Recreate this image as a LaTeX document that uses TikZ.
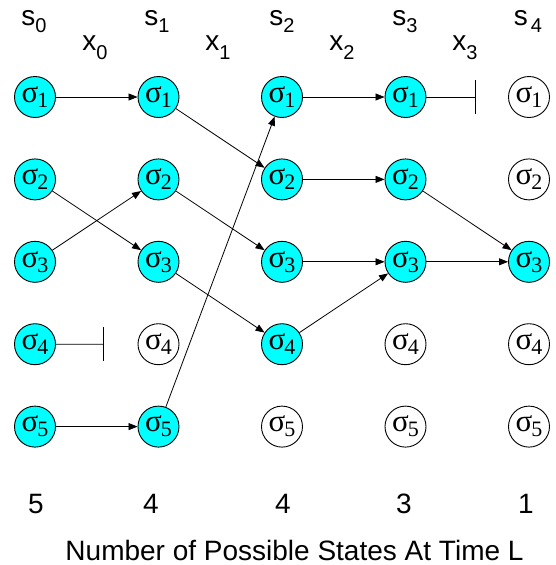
\documentclass[tikz,border=0pt]{standalone}
\usepackage{fontspec}
\setmainfont{Liberation Sans}
\newfontfamily\sigfont{Liberation Serif}
\usetikzlibrary{arrows.meta}
\definecolor{cy}{RGB}{0,255,255}
\newcommand\sg[1]{{\sigfont\fontsize{31}{31}\selectfont σ\kern-1pt\raisebox{-5pt}{\fontsize{22}{22}\selectfont #1}}}
\newcommand\lb[3]{{\fontsize{28}{28}\selectfont #1\raisebox{#3}{\fontsize{20}{20}\selectfont #2}}}
\begin{document}
\begin{tikzpicture}[x=1pt,y=-1pt,
  st/.style={circle, draw, line width=0.9pt, minimum size=41pt, inner sep=0pt},
  on/.style={st, fill=cy},
  off/.style={st, fill=white},
  edge/.style={line width=0.8pt, -{Triangle[length=9pt,width=7pt]}},
  blk/.style={line width=0.8pt},
  lab/.style={anchor=base, inner sep=0pt}]
\useasboundingbox (0,0) rectangle (556,565);
% state nodes
\foreach \c/\r in {0/1,0/2,0/3,0/4,0/5,1/1,1/2,1/3,1/5,2/1,2/2,2/3,2/4,3/1,3/2,3/3,4/3}
  \node[on] (n\c\r) at ({35+123.5*\c},{97+82.4*(\r-1)}) {\sg{\r}};
\foreach \c/\r in {1/4,2/5,3/4,3/5,4/1,4/2,4/4,4/5}
  \node[off] (n\c\r) at ({35+123.5*\c},{97+82.4*(\r-1)}) {\sg{\r}};
% headers
\node[lab] (s0) at (34,25) {\lb{s}{0}{-7pt}};
\node[lab] (s1) at (157,25) {\lb{s}{1}{-7pt}};
\node[lab] (s2) at (282,25) {\lb{s}{2}{-7pt}};
\node[lab] (s3) at (405,25) {\lb{s}{3}{-7pt}};
\node[lab] (s4) at (528,25) {\lb{s\kern3pt}{4}{-7pt}};
\node[lab] (x0) at (95,50) {\lb{x}{0}{-9pt}};
\node[lab] (x1) at (218,50) {\lb{x}{1}{-9pt}};
\node[lab] (x2) at (342,50) {\lb{x}{2}{-9pt}};
\node[lab] (x3) at (465,50) {\lb{x}{3}{-9pt}};
% counts
\node[lab] (c0) at (36,513) {\fontsize{28}{28}\selectfont 5};
\node[lab] (c1) at (151,513) {\fontsize{28}{28}\selectfont 4};
\node[lab] (c2) at (283,513) {\fontsize{28}{28}\selectfont 4};
\node[lab] (c3) at (404,513) {\fontsize{28}{28}\selectfont 3};
\node[lab] (c4) at (526,513) {\fontsize{28}{28}\selectfont 1};
\node[lab] (title) at (294.5,560) {\fontsize{28}{28}\selectfont Number of Possible States At Time L};
% transitions
\draw[edge] (n01) -- (n11);
\draw[edge] (n02) -- (n13);
\draw[edge] (n03) -- (n12);
\draw[edge] (n05) -- (n15);
\draw[edge] (n11) -- (n22);
\draw[edge] (n12) -- (n23);
\draw[edge] (n13) -- (n24);
\draw[edge] (n15) -- (n21);
\draw[edge] (n21) -- (n31);
\draw[edge] (n22) -- (n32);
\draw[edge] (n23) -- (n33);
\draw[edge] (n24) -- (n33);
\draw[edge] (n32) -- (n43);
\draw[edge] (n33) -- (n43);
% blocked
\coordinate (b04) at (103,344.2);
\coordinate (b31) at (475,97);
\draw[blk] (n04) -- (b04);
\draw[blk] ([yshift=17pt]b04) -- ([yshift=-17pt]b04);
\draw[blk] (n31) -- (b31);
\draw[blk] ([yshift=17pt]b31) -- ([yshift=-17pt]b31);
\end{tikzpicture}
\end{document}
